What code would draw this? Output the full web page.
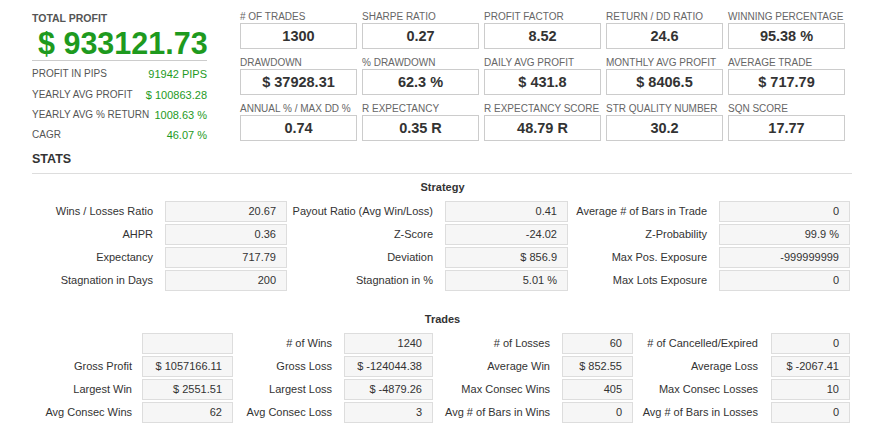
<!DOCTYPE html>
<html><head><meta charset="utf-8">
<script src="https://cdn.jsdelivr.net/npm/chart.js@4.4.0/dist/chart.umd.min.js"></script>
<style>
html,body{margin:0;padding:0;background:#fff;width:885px;height:429px;overflow:hidden;font-family:"Liberation Sans",Arial,sans-serif;}
#root{position:relative;width:885px;height:429px;}
.abs{position:absolute;white-space:nowrap;}
.tlabel{font-size:10px;color:#666;line-height:12px;}
.tbox{border:1px solid #ccc;box-sizing:border-box;text-align:center;font-weight:bold;font-size:14.5px;color:#333;background:#fff;}
.llabel{font-size:10px;color:#555;line-height:12px;}
.lval{font-size:11px;color:#1e9a1e;line-height:12px;text-align:right;}
.slabel{font-size:11px;color:#333;line-height:13px;text-align:right;}
.sbox{border:1px solid #ddd;box-sizing:border-box;background:#f6f6f6;font-size:11px;color:#333;text-align:right;padding-right:10px;}
.head{font-size:11px;font-weight:bold;color:#333;}
</style></head><body>
<div id="root"></div>
<script>
const totalProfitLabel = "TOTAL PROFIT";
const totalProfitValue = "$ 933121.73";
const leftLabels = ["PROFIT IN PIPS","YEARLY AVG PROFIT","YEARLY AVG % RETURN","CAGR"];
const leftValues = ["91942 PIPS","$ 100863.28","1008.63 %","46.07 %"];
const topLabels = ["# OF TRADES","SHARPE RATIO","PROFIT FACTOR","RETURN / DD RATIO","WINNING PERCENTAGE",
  "DRAWDOWN","% DRAWDOWN","DAILY AVG PROFIT","MONTHLY AVG PROFIT","AVERAGE TRADE",
  "ANNUAL % / MAX DD %","R EXPECTANCY","R EXPECTANCY SCORE","STR QUALITY NUMBER","SQN SCORE"];
const topValues = ["1300","0.27","8.52","24.6","95.38 %",
  "$ 37928.31","62.3 %","$ 431.8","$ 8406.5","$ 717.79",
  "0.74","0.35 R","48.79 R","30.2","17.77"];
const strategyLabels = ["Wins / Losses Ratio","Payout Ratio (Avg Win/Loss)","Average # of Bars in Trade",
  "AHPR","Z-Score","Z-Probability",
  "Expectancy","Deviation","Max Pos. Exposure",
  "Stagnation in Days","Stagnation in %","Max Lots Exposure"];
const strategyValues = ["20.67","0.41","0",
  "0.36","-24.02","99.9 %",
  "717.79","$ 856.9","-999999999",
  "200","5.01 %","0"];
const tradesLabels = ["","# of Wins","# of Losses","# of Cancelled/Expired",
  "Gross Profit","Gross Loss","Average Win","Average Loss",
  "Largest Win","Largest Loss","Max Consec Wins","Max Consec Losses",
  "Avg Consec Wins","Avg Consec Loss","Avg # of Bars in Wins","Avg # of Bars in Losses"];
const tradesValues = ["","1240","60","0",
  "$ 1057166.11","$ -124044.38","$ 852.55","$ -2067.41",
  "$ 2551.51","$ -4879.26","405","10",
  "62","3","0","0"];

const root = document.getElementById('root');
function el(cls, text, css){
  const d = document.createElement('div');
  d.className = 'abs ' + cls;
  d.textContent = text;
  Object.assign(d.style, css);
  root.appendChild(d);
  return d;
}
// Left panel
el('', totalProfitLabel, {left:'32px', top:'12px', fontSize:'10.5px', fontWeight:'bold', color:'#555'});
el('', totalProfitValue, {left:'38px', top:'24px', fontSize:'30.5px', fontWeight:'bold', color:'#1e9a1e', lineHeight:'38px'});
el('', '', {left:'32px', top:'60px', width:'175px', height:'1px', background:'#ccc'});
const leftY = [68, 89, 109, 129];
leftLabels.forEach((t,i)=>{
  el('llabel', t, {left:'32px', top:leftY[i]+'px'});
  el('lval', leftValues[i], {right:(885-207)+'px', top:leftY[i]+'px'});
});
el('', 'STATS', {left:'32px', top:'152px', fontSize:'12.5px', fontWeight:'bold', color:'#333'});
el('', '', {left:'32px', top:'173px', width:'820px', height:'1px', background:'#ddd'});

// Top grid
const colX = [240, 362, 484, 606, 728];
const rowY = [23, 69, 115];
topLabels.forEach((t,i)=>{
  const c = i % 5, r = Math.floor(i/5);
  el('tlabel', t, {left:colX[c]+'px', top:(rowY[r]-12)+'px'});
  el('tbox', topValues[i], {left:colX[c]+'px', top:rowY[r]+'px', width:'117px', height:'26px', lineHeight:'24px'});
});

// Strategy
el('head', 'Strategy', {left:'0px', width:'885px', textAlign:'center', top:'181px'});
const sLabelRight = [153, 433, 707];
const sBox = [[165,122],[445,123],[719,131]];
strategyLabels.forEach((t,i)=>{
  const c = i % 3, r = Math.floor(i/3);
  const y = 201 + r*23;
  el('slabel', t, {right:(885-sLabelRight[c])+'px', top:(y+4)+'px'});
  el('sbox', strategyValues[i], {left:sBox[c][0]+'px', width:sBox[c][1]+'px', top:y+'px', height:'21px', lineHeight:'19px'});
});

// Trades
el('head', 'Trades', {left:'0px', width:'885px', textAlign:'center', top:'313px'});
const tLabelRight = [132, 332, 550, 758];
const tBox = [[142,91],[344,89],[562,71],[771,79]];
tradesLabels.forEach((t,i)=>{
  const c = i % 4, r = Math.floor(i/4);
  const y = 333 + r*23;
  if (t) el('slabel', t, {right:(885-tLabelRight[c])+'px', top:(y+4)+'px'});
  el('sbox', tradesValues[i], {left:tBox[c][0]+'px', width:tBox[c][1]+'px', top:y+'px', height:'21px', lineHeight:'19px'});
});
</script>
</body></html>
